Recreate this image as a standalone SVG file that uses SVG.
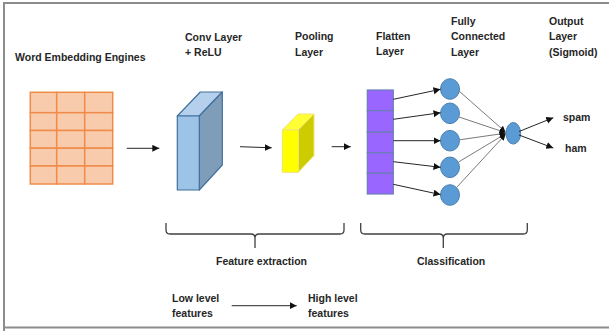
<svg xmlns="http://www.w3.org/2000/svg" width="609" height="331" viewBox="0 0 609 331">
<style>
.t{font-family:"Liberation Sans",Arial,sans-serif;font-size:10.5px;font-weight:bold;fill:#262626}
.a{stroke:#262626;stroke-width:1;fill:none}
.g{stroke:#7a7a7a;stroke-width:1;fill:none}
.br{stroke:#404040;stroke-width:1.3;fill:none}
.cell{fill:#F8CBAD;stroke:#F08C4A;stroke-width:1.5}
.fc{fill:#5B9BD5;stroke:#4A7FB0;stroke-width:1}
</style>
<defs>
<marker id="ah" markerUnits="userSpaceOnUse" markerWidth="8" markerHeight="8" refX="7" refY="3.5" orient="auto">
<path d="M0,0 L7,3.5 L0,7 z" fill="#111"/>
</marker>
<marker id="ahs" markerUnits="userSpaceOnUse" markerWidth="8" markerHeight="8" refX="6" refY="3" orient="auto">
<path d="M0,0 L6,3 L0,6 z" fill="#111"/>
</marker>
</defs>
<rect width="609" height="331" fill="#fff"/>
<g id="frame" stroke="#8c8c8c" stroke-width="2" fill="none">
<path d="M4,331 V3 H609"/>
<path d="M4,327.5 H609"/>
</g>

<g id="word-embedding">
<text class="t" x="15" y="61">Word Embedding Engines</text>
<rect class="cell" x="30.3" y="92.3" width="26.4" height="20.4"/>
<rect class="cell" x="56.7" y="92.3" width="28" height="20.4"/>
<rect class="cell" x="84.7" y="92.3" width="28" height="20.4"/>
<rect class="cell" x="30.3" y="112.7" width="26.4" height="17.8"/>
<rect class="cell" x="56.7" y="112.7" width="28" height="17.8"/>
<rect class="cell" x="84.7" y="112.7" width="28" height="17.8"/>
<rect class="cell" x="30.3" y="130.5" width="26.4" height="17.7"/>
<rect class="cell" x="56.7" y="130.5" width="28" height="17.7"/>
<rect class="cell" x="84.7" y="130.5" width="28" height="17.7"/>
<rect class="cell" x="30.3" y="148.2" width="26.4" height="17.8"/>
<rect class="cell" x="56.7" y="148.2" width="28" height="17.8"/>
<rect class="cell" x="84.7" y="148.2" width="28" height="17.8"/>
<rect class="cell" x="30.3" y="166" width="26.4" height="18"/>
<rect class="cell" x="56.7" y="166" width="28" height="18"/>
<rect class="cell" x="84.7" y="166" width="28" height="18"/>
</g>

<g id="conv-layer">
<text class="t" x="185" y="41">Conv Layer</text>
<text class="t" x="185" y="56">+ ReLU</text>
<g stroke="#41719C" stroke-width="1.2" stroke-linejoin="round">
<polygon points="177.3,116 199.3,116 222.3,92 200.3,92" fill="#B4D0EC"/>
<polygon points="199.3,116 222.3,92 222.3,165 199.3,190" fill="#7F9DB9"/>
<rect x="177.3" y="116" width="22" height="74" fill="#9DC3E6"/>
</g>
</g>

<g id="pooling-layer">
<text class="t" x="295" y="40">Pooling</text>
<text class="t" x="295" y="56">Layer</text>
<g stroke="#F2E27A" stroke-width="1" stroke-linejoin="round">
<polygon points="282.3,130 298.3,130 314,114 298,114" fill="#FFFF33"/>
<polygon points="298.3,130 314,114 314,155.5 298.3,172.3" fill="#CCCC00"/>
<rect x="282.3" y="130" width="16" height="42.3" fill="#FFFF00"/>
</g>
</g>

<g id="flatten-layer">
<text class="t" x="376" y="40">Flatten</text>
<text class="t" x="376" y="55">Layer</text>
<g fill="#9966FF" stroke="#6A7FB5" stroke-width="1.2">
<rect x="367.3" y="90" width="26" height="20.7"/>
<rect x="367.3" y="110.7" width="26" height="21.6"/>
<rect x="367.3" y="132.3" width="26" height="20.4"/>
<rect x="367.3" y="152.7" width="26" height="20.6"/>
<rect x="367.3" y="173.3" width="26" height="20.7"/>
</g>
</g>

<g id="fully-connected-layer">
<text class="t" x="451" y="25">Fully</text>
<text class="t" x="451" y="40">Connected</text>
<text class="t" x="451" y="56">Layer</text>
<ellipse class="fc" cx="450" cy="89" rx="9.5" ry="10.3"/>
<ellipse class="fc" cx="450" cy="113.3" rx="9.5" ry="10.3"/>
<ellipse class="fc" cx="450" cy="140.7" rx="9.5" ry="10.3"/>
<ellipse class="fc" cx="450" cy="167.3" rx="9.5" ry="10.3"/>
<ellipse class="fc" cx="450" cy="195" rx="9.5" ry="10.3"/>
</g>

<g id="output-layer">
<text class="t" x="549" y="25">Output</text>
<text class="t" x="549" y="40">Layer</text>
<text class="t" x="549" y="56">(Sigmoid)</text>
<ellipse class="fc" cx="513.3" cy="133.3" rx="7.3" ry="10.8"/>
</g>

<g id="spam"><text class="t" x="563" y="121">spam</text></g>
<g id="ham"><text class="t" x="565" y="152">ham</text></g>

<g id="feature-extraction">
<path class="br" d="M166,223 V230 Q166,234 170,234 H251 Q255,234 255,238 V248 V238 Q255,234 259,234 H340 Q344,234 344,230 V223"/>
<text class="t" x="216" y="265">Feature extraction</text>
</g>
<g id="classification">
<path class="br" d="M360.7,223 V230 Q360.7,234 364.7,234 H439.3 Q443.3,234 443.3,238 V248 V238 Q443.3,234 447.3,234 H523.3 Q527.3,234 527.3,230 V223"/>
<text class="t" x="417" y="265">Classification</text>
</g>

<g id="low-level"><text class="t" x="172" y="302">Low level</text><text class="t" x="172" y="317">features</text></g>
<g id="high-level"><text class="t" x="308" y="302">High level</text><text class="t" x="308" y="317">features</text></g>

<g id="connectors">
<line class="a" x1="126.7" y1="148.3" x2="159.3" y2="148.3" marker-end="url(#ah)"/>
<line class="a" x1="240" y1="146.7" x2="271.7" y2="147.8" marker-end="url(#ah)"/>
<line class="a" x1="331.7" y1="146.7" x2="350.7" y2="146.7" marker-end="url(#ah)"/>
<line class="a" x1="393.3" y1="99.3" x2="440.5" y2="89.3" marker-end="url(#ah)"/>
<line class="a" x1="393.3" y1="119.3" x2="440.5" y2="112.7" marker-end="url(#ah)"/>
<line class="a" x1="393.3" y1="140.7" x2="440.5" y2="140.7" marker-end="url(#ah)"/>
<line class="a" x1="393.3" y1="161.7" x2="440.5" y2="167.3" marker-end="url(#ah)"/>
<line class="a" x1="393.3" y1="184.3" x2="440.5" y2="194.6" marker-end="url(#ah)"/>
<line class="g" x1="459" y1="91" x2="505.5" y2="132" marker-end="url(#ahs)"/>
<line class="g" x1="459" y1="117" x2="505.5" y2="132.6" marker-end="url(#ahs)"/>
<line class="g" x1="459.5" y1="139.8" x2="505.5" y2="133.2" marker-end="url(#ahs)"/>
<line class="g" x1="458.5" y1="162" x2="505.5" y2="133.8" marker-end="url(#ahs)"/>
<line class="g" x1="457" y1="187" x2="505.5" y2="134.4" marker-end="url(#ahs)"/>
<line class="a" x1="519" y1="131.5" x2="553.3" y2="117.7" marker-end="url(#ah)"/>
<line class="a" x1="519" y1="135" x2="553.3" y2="148" marker-end="url(#ah)"/>
<line class="a" x1="231.7" y1="305.7" x2="296.7" y2="305.7" marker-end="url(#ah)"/>
</g>
</svg>
